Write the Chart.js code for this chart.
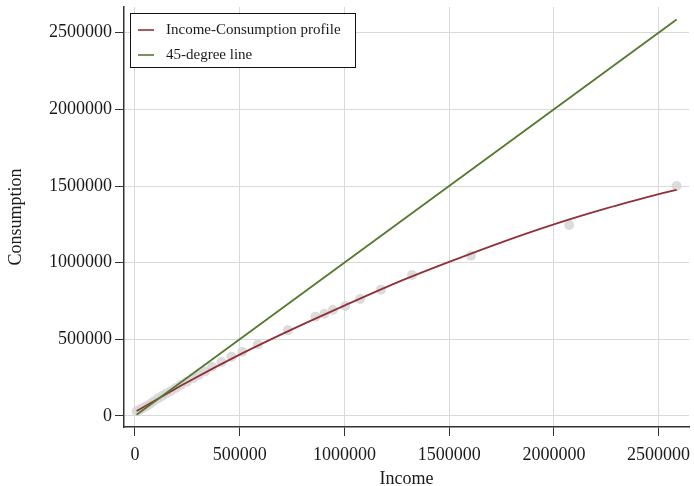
<!DOCTYPE html>
<html>
<head>
<meta charset="utf-8">
<script src="https://cdn.jsdelivr.net/npm/chart.js@4/dist/chart.umd.min.js"></script>
<style>
  html, body { margin: 0; padding: 0; background: #ffffff; }
  #wrap { width: 694px; height: 486px; }
</style>
</head>
<body>
<div id="wrap"><canvas id="chart" width="694" height="486"></canvas></div>
<script>
// Observed households: income and consumption
const incomeObs = [8000, 22000, 38000, 55000, 72000, 90000, 110000, 130000, 150000, 172000,
  195000, 220000, 248000, 278000, 305000, 335000, 368000, 413000, 461000, 513000,
  587000, 730000, 862000, 905000, 945000, 1004000, 1075000, 1175000, 1323000, 1604000,
  2073000, 2586000];
const consumptionObs = [30000, 40000, 52000, 64000, 78000, 96000, 114000, 130000, 146000, 163000,
  182000, 203000, 224000, 246000, 267000, 290000, 321000, 352000, 387000, 419000,
  468000, 559000, 648000, 667000, 691000, 717000, 763000, 824000, 920000, 1045000,
  1246000, 1500000];

// Fitted income-consumption profile
const profileIncome = [8000, 250000, 500000, 750000, 1000000, 1250000, 1500000, 1750000, 2000000, 2250000, 2500000, 2586000];
const profileConsumption = [32000, 220000, 400000, 565000, 720000, 870000, 1005000, 1133000, 1250000, 1354000, 1447000, 1475000];

// 45-degree reference line endpoints
const diagonalIncome = [8000, 2586000];

// Axis ticks
const xTicks = [0, 500000, 1000000, 1500000, 2000000, 2500000];
const yTicks = [0, 500000, 1000000, 1500000, 2000000, 2500000];

const seriesNames = ['Income-Consumption profile', '45-degree line'];
const profileColor = '#92303a';
const diagonalColor = '#55782f';
const serif = '"Liberation Serif", "Times New Roman", serif';

const scatterData = incomeObs.map((x, i) => ({ x: x, y: consumptionObs[i] }));
const profileData = profileIncome.map((x, i) => ({ x: x, y: profileConsumption[i] }));
const diagonalData = diagonalIncome.map(x => ({ x: x, y: x }));

// Boxed legend drawn inside the upper-left corner of the plot
const boxLegend = {
  id: 'boxLegend',
  afterDraw(chart) {
    const ctx = chart.ctx;
    const x0 = 130.5, y0 = 13.5, w = 225, h = 54;
    ctx.save();
    ctx.fillStyle = '#ffffff';
    ctx.fillRect(x0, y0, w, h);
    ctx.strokeStyle = '#111111';
    ctx.lineWidth = 1;
    ctx.strokeRect(x0, y0, w, h);
    const items = [
      { label: seriesNames[0], color: profileColor, y: 30 },
      { label: seriesNames[1], color: diagonalColor, y: 55 }
    ];
    ctx.font = '15px ' + serif;
    ctx.textBaseline = 'middle';
    ctx.textAlign = 'left';
    items.forEach(it => {
      ctx.strokeStyle = it.color;
      ctx.lineWidth = 1.6;
      ctx.beginPath();
      ctx.moveTo(138, it.y);
      ctx.lineTo(154, it.y);
      ctx.stroke();
      ctx.fillStyle = '#1a1a1a';
      ctx.fillText(it.label, 166, it.y);
    });
    ctx.restore();
  }
};

const tickFont = { family: serif, size: 18 };
const titleFont = { family: serif, size: 18, lineHeight: 1 };

new Chart(document.getElementById('chart'), {
  type: 'scatter',
  data: {
    datasets: [
      {
        label: 'Observations',
        data: scatterData,
        backgroundColor: 'rgba(214,214,214,0.85)',
        borderWidth: 0,
        pointRadius: 5,
        pointHoverRadius: 5,
        order: 3
      },
      {
        label: seriesNames[0],
        data: profileData,
        showLine: true,
        borderColor: profileColor,
        borderWidth: 1.8,
        pointRadius: 0,
        tension: 0.3,
        fill: false,
        order: 2
      },
      {
        label: seriesNames[1],
        data: diagonalData,
        showLine: true,
        borderColor: diagonalColor,
        borderWidth: 1.8,
        pointRadius: 0,
        fill: false,
        order: 1
      }
    ]
  },
  options: {
    responsive: false,
    animation: false,
    devicePixelRatio: 1,
    layout: { padding: { top: 7, right: 4, left: 0, bottom: 0 } },
    plugins: {
      legend: { display: false },
      tooltip: { enabled: false }
    },
    scales: {
      x: {
        type: 'linear',
        min: -52000,
        max: 2645000,
        afterBuildTicks: s => { s.ticks = xTicks.map(v => ({ value: v })); },
        afterFit: s => { s.height = 59; s.paddingLeft = 0; s.paddingRight = 0; },
        ticks: {
          font: tickFont,
          color: '#1a1a1a',
          padding: 8,
          maxRotation: 0,
          autoSkip: false,
          callback: v => String(v)
        },
        grid: { color: '#d9d9d9', lineWidth: 1, tickColor: '#333333', tickLength: 9 },
        border: { color: '#333333', width: 1.5 },
        title: { display: true, text: 'Income', font: titleFont, color: '#1a1a1a', padding: { top: 0, bottom: -2 } }
      },
      y: {
        type: 'linear',
        min: -72000,
        max: 2668000,
        afterBuildTicks: s => { s.ticks = yTicks.map(v => ({ value: v })); },
        afterFit: s => { s.width = 124; s.paddingTop = 0; s.paddingBottom = 0; },
        ticks: {
          font: tickFont,
          color: '#1a1a1a',
          padding: 3,
          autoSkip: false,
          callback: v => String(v)
        },
        grid: { color: '#d9d9d9', lineWidth: 1, tickColor: '#333333', tickLength: 9 },
        border: { color: '#333333', width: 1.5 },
        title: { display: true, text: 'Consumption', font: titleFont, color: '#1a1a1a', padding: { top: 7, bottom: 0 } }
      }
    }
  },
  plugins: [boxLegend]
});
</script>
</body>
</html>
